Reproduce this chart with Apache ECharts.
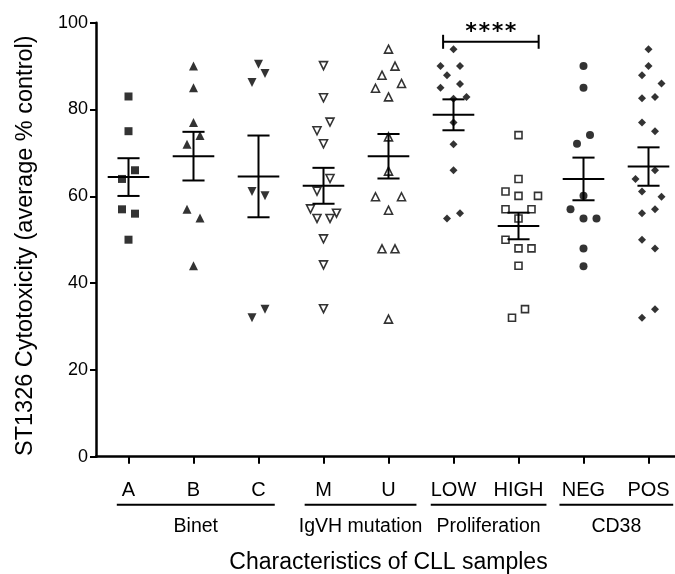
<!DOCTYPE html>
<html>
<head>
<meta charset="utf-8">
<script src="https://cdn.jsdelivr.net/npm/echarts@6/dist/echarts.min.js"></script>
<style>
  html, body { margin: 0; padding: 0; background: #fff; }
  #chart { width: 675px; height: 574px; }
</style>
</head>
<body>
<div id="chart"></div>
<script>
// categories on the x axis and the groups under them
const categories = ["A", "B", "C", "M", "U", "LOW", "HIGH", "NEG", "POS"];
const groupNames = ["Binet", "IgVH mutation", "Proliferation", "CD38"];
const groupFirst = [0, 3, 5, 7];
const groupLast = [2, 4, 6, 8];
const yTicks = [0, 20, 40, 60, 80, 100];

// cytotoxicity values (% control)
const binetA = [83, 75, 66, 64, 57, 56, 50];
const binetB = [90, 85, 77, 72, 74, 57, 55, 44];
const binetC = [90.4, 88.3, 86.2, 61.1, 60.1, 34, 32];
const igvhM = [90.1, 82.7, 77.1, 75.1, 72.1, 64.1, 61.2, 57.1, 54.9, 54.9, 56.1, 50.2, 44.2, 34.1];
const igvhU = [93.9, 90, 87.9, 84.9, 86, 82.9, 73.7, 65.8, 59.9, 59.9, 56.8, 47.9, 47.9, 31.7];
const prolLow = [93.9, 90, 90, 87.9, 85, 85.9, 82.5, 82.9, 77, 72, 66, 54.9, 56.1];
const prolHigh = [74.1, 64, 61.1, 60.1, 60.1, 57, 57, 54.9, 50, 48, 48, 44, 34, 32];
const cd38Neg = [90, 85, 74.1, 72.1, 60.1, 57, 54.9, 54.9, 48, 43.9];
const cd38Pos = [93.9, 90, 87.9, 86, 82.6, 82.9, 77, 75, 66, 64, 61.1, 59.9, 56.1, 57, 50, 48, 34, 32];

// scatter column of each point (dot plot spread), same order as values
const slotA = [0, 0, 1, -1, -1, 1, 0];
const slotB = [0, 0, 0, -1, 1, -1, 1, 0];
const slotC = [0, 1, -1, -1, 1, 1, -1];
const slotM = [0, 0, 1, -1, 0, 1, -1, -2, -1, 1, 2, 0, 0, 0];
const slotU = [0, 1, -1, -2, 2, 0, 0, 0, -2, 2, 0, -1, 1, 0];
const slotLow = [0, -2, 1, -1, -2, 1, 0, 2, 0, 0, 0, -1, 1];
const slotHigh = [0, 0, -2, 0, 3, -2, 2, 0, -2, 0, 2, 0, 1, -1];
const slotNeg = [0, 0, 1, -1, 0, -2, 0, 2, 0, 0];
const slotPos = [0, 0, -1, 2, -1, 1, -1, 1, 1, -2, -1, 2, -1, 1, -1, 1, 1, -1];

// significance: LOW vs HIGH
const sigFrom = 5;
const sigTo = 6;
const sigLevel = 95.6;
const sigLabel = "****";

const values = [binetA, binetB, binetC, igvhM, igvhU, prolLow, prolHigh, cd38Neg, cd38Pos];
const slots = [slotA, slotB, slotC, slotM, slotU, slotLow, slotHigh, slotNeg, slotPos];

const FONT = "Liberation Sans";
const SLOT_W = 0.1; // one column = 0.1 category

const markerStyles = [
  { symbol: "rect", size: 8, open: false, rotate: 0 },
  { symbol: "triangle", size: 9, open: false, rotate: 0 },
  { symbol: "triangle", size: 9, open: false, rotate: 180 },
  { symbol: "triangle", size: 8, open: true, rotate: 180 },
  { symbol: "triangle", size: 8, open: true, rotate: 0 },
  { symbol: "diamond", size: 8, open: false, rotate: 0 },
  { symbol: "rect", size: 7, open: true, rotate: 0 },
  { symbol: "circle", size: 8, open: false, rotate: 0 },
  { symbol: "diamond", size: 8, open: false, rotate: 0 }
];

// underline overhang (in categories) left / right of each group
const groupPadL = [0.18, 0.29, 0.35, 0.37];
const groupPadR = [0.25, 0.43, 0.43, 0.38];

function meanSem(arr) {
  const n = arr.length;
  const m = arr.reduce((a, b) => a + b, 0) / n;
  const sd = Math.sqrt(arr.reduce((a, b) => a + (b - m) * (b - m), 0) / (n - 1));
  return [m, sd / Math.sqrt(n)];
}

const scatterSeries = values.map(function (arr, i) {
  const st = markerStyles[i];
  return {
    type: "scatter",
    name: categories[i],
    xAxisIndex: 1,
    symbol: st.symbol,
    symbolSize: st.size,
    symbolRotate: st.rotate,
    itemStyle: st.open
      ? { color: "#fff", borderColor: "#000", borderWidth: 1.6 }
      : { color: "#000" },
    data: arr.map(function (v, j) {
      return [i + slots[i][j] * SLOT_W, v];
    }),
    z: 2
  };
});

const statsData = values.map(function (arr, i) {
  const s = meanSem(arr);
  return [i, s[0], s[1]];
});

const lineStyle = { stroke: "#000", lineWidth: 2 };

function renderErr(params, api) {
  const x = api.value(0), m = api.value(1), s = api.value(2);
  const w = api.size([1, 0])[0];
  const c = api.coord([x, m]);
  const hi = api.coord([x, m + s]);
  const lo = api.coord([x, m - s]);
  return {
    type: "group",
    children: [
      { type: "line", shape: { x1: c[0] - 0.32 * w, y1: c[1], x2: c[0] + 0.32 * w, y2: c[1] }, style: lineStyle },
      { type: "line", shape: { x1: hi[0], y1: hi[1], x2: lo[0], y2: lo[1] }, style: lineStyle },
      { type: "line", shape: { x1: hi[0] - 0.17 * w, y1: hi[1], x2: hi[0] + 0.17 * w, y2: hi[1] }, style: lineStyle },
      { type: "line", shape: { x1: lo[0] - 0.17 * w, y1: lo[1], x2: lo[0] + 0.17 * w, y2: lo[1] }, style: lineStyle }
    ]
  };
}

function renderGroup(params, api) {
  const i = params.dataIndex;
  const a = api.coord([api.value(0) - groupPadL[i], 0]);
  const b = api.coord([api.value(1) + groupPadR[i], 0]);
  return {
    type: "group",
    children: [
      { type: "line", shape: { x1: a[0], y1: a[1] + 48, x2: b[0], y2: b[1] + 48 }, style: lineStyle },
      {
        type: "text",
        style: {
          x: (a[0] + b[0]) / 2, y: a[1] + 70, text: groupNames[i],
          fill: "#000", font: "19.5px '" + FONT + "'", align: "center", verticalAlign: "middle"
        }
      }
    ]
  };
}

function renderSig(params, api) {
  const a = api.coord([api.value(0) - 0.16, sigLevel]);
  const b = api.coord([api.value(1) + 0.31, sigLevel]);
  return {
    type: "group",
    children: [
      { type: "line", shape: { x1: a[0], y1: a[1], x2: b[0], y2: b[1] }, style: lineStyle },
      { type: "line", shape: { x1: a[0], y1: a[1] - 7, x2: a[0], y2: a[1] + 7 }, style: lineStyle },
      { type: "line", shape: { x1: b[0], y1: b[1] - 7, x2: b[0], y2: b[1] + 7 }, style: lineStyle },
      {
        type: "text",
        style: {
          x: (a[0] + b[0]) / 2, y: a[1] - 10, text: sigLabel,
          fill: "#000", font: "bold 22px 'DejaVu Sans Mono'", align: "center", verticalAlign: "middle"
        }
      }
    ]
  };
}

const chart = echarts.init(document.getElementById("chart"));
chart.setOption({
  animation: false,
  backgroundColor: "#fff",
  grid: { left: 96, top: 22.7, width: 585, height: 434, containLabel: false, outerBoundsMode: "none" },
  xAxis: [
    {
      type: "category",
      data: categories,
      boundaryGap: true,
      position: "bottom",
      axisLine: { lineStyle: { color: "#000", width: 2.5 } },
      axisTick: { show: true, alignWithLabel: true, interval: 0, length: 7, lineStyle: { color: "#000", width: 2 } },
      axisLabel: { interval: 0, hideOverlap: false, color: "#000", fontSize: 20, fontFamily: FONT, margin: 24 },
      splitLine: { show: false },
      name: "Characteristics of CLL samples",
      nameLocation: "middle",
      nameGap: 94,
      nameTextStyle: { color: "#000", fontSize: 23, fontFamily: FONT, verticalAlign: "top" }
    },
    {
      type: "value",
      min: -0.5,
      max: 8.5,
      show: false
    }
  ],
  yAxis: {
    type: "value",
    min: 0,
    max: 100,
    interval: 20,
    axisLine: { show: true, onZero: false, lineStyle: { color: "#000", width: 2.5 } },
    axisTick: { show: true, length: 6, lineStyle: { color: "#000", width: 2 } },
    axisLabel: {
      color: "#000", fontSize: 18, fontFamily: FONT, margin: 8,
      formatter: function (v) { return yTicks.indexOf(v) >= 0 ? String(v) : ""; }
    },
    splitLine: { show: false },
    name: "ST1326 Cytotoxicity (average % control)",
    nameLocation: "middle",
    nameGap: 58,
    nameTextStyle: { color: "#000", fontSize: 23.5, fontFamily: FONT, padding: [0, 12, 0, 0] }
  },
  series: scatterSeries.concat([
    {
      type: "custom",
      xAxisIndex: 1,
      renderItem: renderErr,
      data: statsData,
      z: 3
    },
    {
      type: "custom",
      xAxisIndex: 1,
      renderItem: renderGroup,
      clip: false,
      data: groupFirst.map(function (f, i) { return [f, groupLast[i]]; }),
      z: 3
    },
    {
      type: "custom",
      xAxisIndex: 1,
      renderItem: renderSig,
      clip: false,
      data: [[sigFrom, sigTo]],
      z: 3
    }
  ])
});
</script>
</body>
</html>
